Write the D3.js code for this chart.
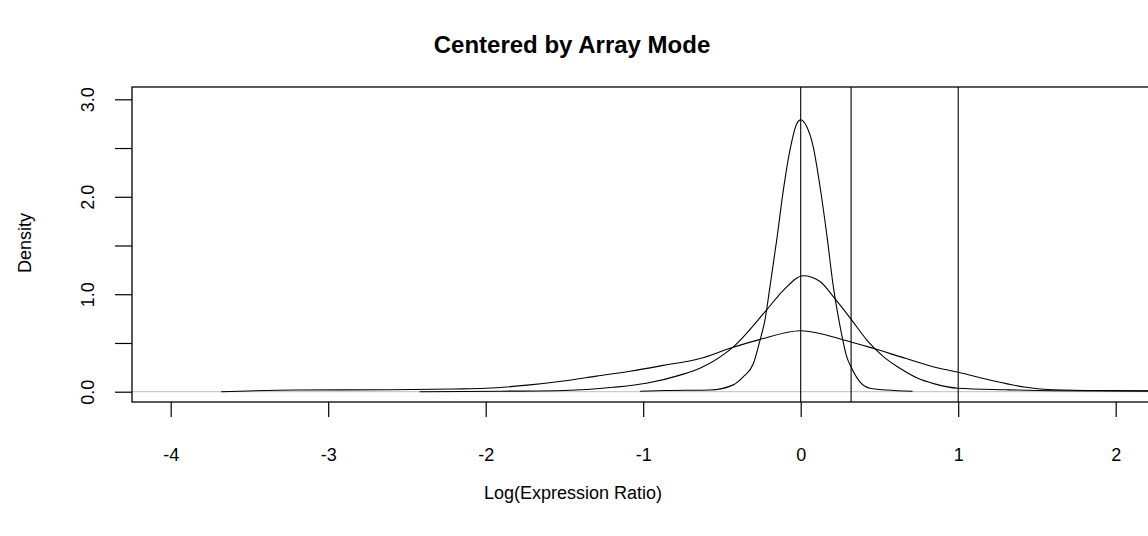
<!DOCTYPE html>
<html>
<head>
<meta charset="utf-8">
<script src="https://cdn.jsdelivr.net/npm/d3@7"></script>
<style>
  body { margin: 0; background: #fff; }
  svg { display: block; font-family: "Liberation Sans", Arial, sans-serif; }
</style>
</head>
<body>
<div id="chart"></div>
<script>
// density curves (x = log ratio, y = density)
const narrowX = [-1.02, -0.86, -0.576, -0.428, -0.364, -0.30, -0.258, -0.227, -0.195, -0.152, -0.11, -0.068, -0.025, 0, 0.038, 0.08, 0.123, 0.165, 0.207, 0.25, 0.292, 0.324, 0.376, 0.44, 0.546, 0.71];
const narrowY = [0.005, 0.012, 0.017, 0.07, 0.154, 0.29, 0.53, 0.735, 1.08, 1.56, 2.07, 2.48, 2.75, 2.79, 2.72, 2.51, 2.10, 1.62, 1.08, 0.67, 0.36, 0.24, 0.10, 0.035, 0.017, 0.005];

const mediumX = [-2.42, -1.9, -1.5, -1.19, -0.98, -0.766, -0.64, -0.428, -0.216, -0.11, 0.017, 0.123, 0.207, 0.324, 0.42, 0.525, 0.63, 0.74, 0.85, 1.0, 1.3, 1.6, 2.3];
const mediumY = [0.0, 0.005, 0.012, 0.045, 0.086, 0.17, 0.24, 0.46, 0.84, 1.04, 1.19, 1.13, 0.975, 0.735, 0.53, 0.36, 0.24, 0.14, 0.08, 0.035, 0.02, 0.01, 0.005];

const wideX = [-3.68, -3.2, -2.6, -2.2, -2.0, -1.72, -1.507, -1.295, -1.084, -0.872, -0.64, -0.449, -0.258, 0, 0.292, 0.46, 0.67, 0.88, 1.0, 1.2, 1.43, 1.6, 1.9, 2.3];
const wideY = [0.0, 0.017, 0.02, 0.028, 0.035, 0.07, 0.11, 0.16, 0.21, 0.27, 0.34, 0.445, 0.537, 0.626, 0.523, 0.445, 0.34, 0.24, 0.2, 0.12, 0.045, 0.02, 0.012, 0.01];

// cutoff lines
const vLines = [0, 0.32, 1];

// axis ticks
const xTicks = [-4, -3, -2, -1, 0, 1, 2];
const yTicks = [0, 0.5, 1, 1.5, 2, 2.5, 3];
const yTickLabels = ["0.0", "", "1.0", "", "2.0", "", "3.0"];

const W = 1148, H = 536;
// plot box (right side runs past the window)
const box = { left: 132, top: 87, right: 1160, bottom: 402 };

const svg = d3.select("#chart")
  .append("svg")
  .attr("width", W)
  .attr("height", H);

const x = d3.scaleLinear().domain([-4, 2]).range([170.7, 1115.7]);
const y = d3.scaleLinear().domain([0, 3]).range([391.7, 99.3]);

// gray zero line
svg.append("line")
  .attr("x1", box.left).attr("x2", box.right)
  .attr("y1", y(0)).attr("y2", y(0))
  .attr("stroke", "#bebebe")
  .attr("stroke-width", 1);

// curves
const line = d3.line()
  .x((d) => x(d[0]))
  .y((d) => y(d[1]))
  .curve(d3.curveMonotoneX);

const series = [
  d3.zip(wideX, wideY),
  d3.zip(mediumX, mediumY),
  d3.zip(narrowX, narrowY)
];

svg.selectAll(".curve")
  .data(series)
  .join("path")
  .attr("class", "curve")
  .attr("d", line)
  .attr("fill", "none")
  .attr("stroke", "#000")
  .attr("stroke-width", 1.1);

// vertical lines
svg.selectAll(".vline")
  .data(vLines)
  .join("line")
  .attr("class", "vline")
  .attr("x1", (d) => x(d)).attr("x2", (d) => x(d))
  .attr("y1", box.top).attr("y2", box.bottom)
  .attr("stroke", "#000")
  .attr("stroke-width", 1.1);

// box
svg.append("rect")
  .attr("x", box.left).attr("y", box.top)
  .attr("width", box.right - box.left)
  .attr("height", box.bottom - box.top)
  .attr("fill", "none")
  .attr("stroke", "#000")
  .attr("stroke-width", 1.3);

// x axis
const xAxis = svg.append("g")
  .attr("transform", `translate(0,${box.bottom})`)
  .call(d3.axisBottom(x).tickValues(xTicks).tickSize(15).tickFormat(d3.format("d")));
xAxis.select(".domain").remove();
xAxis.selectAll("line").attr("stroke-width", 1.2);
xAxis.selectAll("text")
  .attr("y", 53)
  .attr("dy", "0.35em")
  .attr("fill", "#000")
  .style("font-size", "18px")
  .style("font-family", "'Liberation Sans', Arial, sans-serif")
  .text((d) => String(d).replace("−", "-"));

// y axis
const yAxis = svg.append("g")
  .attr("transform", `translate(${box.left},0)`)
  .call(d3.axisLeft(y).tickValues(yTicks).tickSize(17).tickFormat((d, i) => yTickLabels[i]));
yAxis.select(".domain").remove();
yAxis.selectAll("line").attr("stroke-width", 1.2);
yAxis.selectAll("text")
  .attr("x", 0)
  .attr("y", -44)
  .attr("dy", "0.35em")
  .attr("transform", "rotate(-90)")
  .attr("text-anchor", "middle")
  .attr("fill", "#000")
  .style("font-size", "18px")
  .style("font-family", "'Liberation Sans', Arial, sans-serif");

// title and axis labels
svg.append("text")
  .attr("x", 572).attr("y", 45)
  .attr("dy", "0.35em")
  .attr("text-anchor", "middle")
  .style("font-size", "24px")
  .style("font-weight", "bold")
  .text("Centered by Array Mode");

svg.append("text")
  .attr("x", 573).attr("y", 493)
  .attr("dy", "0.35em")
  .attr("text-anchor", "middle")
  .style("font-size", "18px")
  .text("Log(Expression Ratio)");

svg.append("text")
  .attr("transform", "translate(25,243) rotate(-90)")
  .attr("dy", "0.35em")
  .attr("text-anchor", "middle")
  .style("font-size", "18px")
  .text("Density");
</script>
</body>
</html>
